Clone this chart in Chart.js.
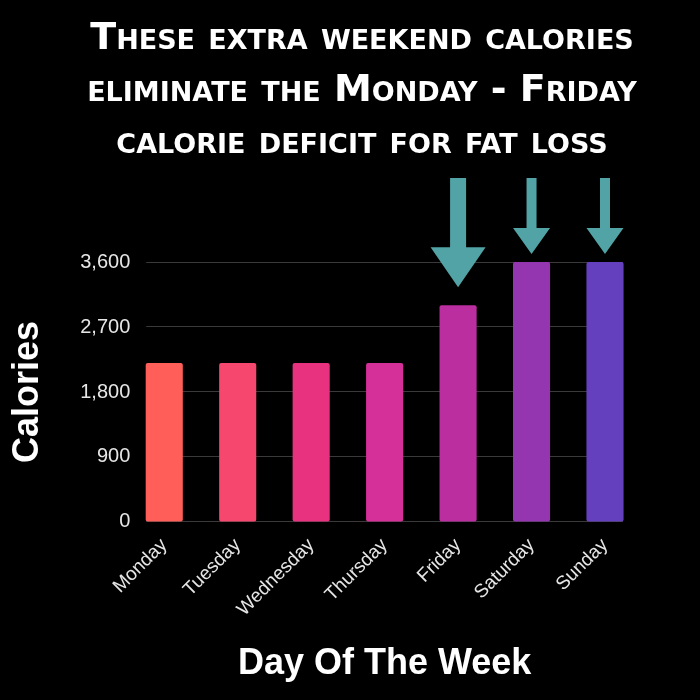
<!DOCTYPE html>
<html>
<head>
<meta charset="utf-8">
<script src="https://cdn.jsdelivr.net/npm/chart.js@4/dist/chart.umd.min.js"></script>
<style>
  html, body { margin: 0; padding: 0; background: #000; }
  #wrap { width: 700px; height: 700px; }
</style>
</head>
<body>
<div id="wrap"><canvas id="c" width="700" height="700"></canvas></div>
<script>
// ---- data ----
var days = ['Monday', 'Tuesday', 'Wednesday', 'Thursday', 'Friday', 'Saturday', 'Sunday'];
var calories = [2200, 2200, 2200, 2200, 3000, 3600, 3600];
var barColors = ['#FF5F58', '#F6476E', '#E8327F', '#D5309A', '#BA2EA0', '#9536B1', '#6540BE'];
var yTicks = [0, 900, 1800, 2700, 3600];
var titleLines = [
  'These extra weekend calories',
  'eliminate the Monday - Friday',
  'calorie deficit for fat loss'
];
// which bars get a down arrow, and how big
var arrowDays = ['Friday', 'Saturday', 'Sunday'];
var arrowBig = [true, false, false];

var GRID = '#3a3a3a';
var TICK = '#e6e6e6';
var TEAL = '#52A3A6';

// black background
var bgPlugin = {
  id: 'bg',
  beforeDraw: function (chart) {
    var ctx = chart.ctx;
    ctx.save();
    ctx.fillStyle = '#000';
    ctx.fillRect(0, 0, chart.width, chart.height);
    ctx.restore();
  }
};

// teal arrows above the weekend bars
var arrowPlugin = {
  id: 'arrows',
  afterDatasetsDraw: function (chart) {
    var ctx = chart.ctx;
    var meta = chart.getDatasetMeta(0);
    var top = chart.chartArea.top - 84;
    ctx.save();
    ctx.fillStyle = TEAL;
    arrowDays.forEach(function (d, k) {
      var bar = meta.data[days.indexOf(d)];
      if (!bar) return;
      var big = arrowBig[k];
      var shaft = big ? 16 : 10;
      var head = big ? 55 : 37;
      var headH = big ? 40 : 26;
      var tip = bar.y - (big ? 18 : 8);
      var x = bar.x;
      ctx.beginPath();
      ctx.moveTo(x - shaft / 2, top);
      ctx.lineTo(x + shaft / 2, top);
      ctx.lineTo(x + shaft / 2, tip - headH);
      ctx.lineTo(x + head / 2, tip - headH);
      ctx.lineTo(x, tip);
      ctx.lineTo(x - head / 2, tip - headH);
      ctx.lineTo(x - shaft / 2, tip - headH);
      ctx.closePath();
      ctx.fill();
    });
    ctx.restore();
  }
};

function fixedTicks(s) { s.ticks = yTicks.map(function (v) { return { value: v }; }); }

new Chart(document.getElementById('c'), {
  type: 'bar',
  data: {
    labels: days,
    datasets: [{
      data: calories,
      backgroundColor: barColors,
      borderRadius: 2,
      borderSkipped: false,
      categoryPercentage: 1,
      barPercentage: 0.505,
      clip: 40
    }]
  },
  options: {
    responsive: false,
    animation: false,
    devicePixelRatio: 1,
    layout: { padding: { left: 24, right: 0, top: 0, bottom: 0 } },
    plugins: {
      legend: { display: false },
      tooltip: { enabled: false },
      title: {
        display: true,
        text: titleLines,
        color: '#fff',
        padding: { top: 13, bottom: 93 },
        font: { family: 'DejaVu Sans', size: 38, weight: 'small-caps bold', lineHeight: '52px' }
      }
    },
    scales: {
      x: {
        offset: false,
        border: { display: false },
        grid: { display: false },
        ticks: {
          color: TICK,
          minRotation: 45,
          maxRotation: 45,
          padding: 4,
          font: { family: 'Liberation Sans', size: 19 }
        },
        title: {
          display: true,
          text: 'Day Of The Week',
          color: '#fff',
          padding: { top: 18, bottom: 14 },
          font: { family: 'Liberation Sans', size: 36, weight: 'bold' }
        }
      },
      y: {
        min: 0,
        max: 3600,
        border: { display: false },
        grid: { color: GRID, tickLength: 18, tickColor: GRID },
        afterBuildTicks: fixedTicks,
        ticks: {
          color: TICK,
          padding: 16,
          font: { family: 'Liberation Sans', size: 20 },
          callback: function (v) { return v.toLocaleString('en-US'); }
        },
        title: {
          display: true,
          text: 'Calories',
          color: '#fff',
          padding: { top: -18, bottom: 15 },
          font: { family: 'Liberation Sans', size: 36, weight: 'bold' }
        }
      },
      y2: {
        position: 'right',
        min: 0,
        max: 3600,
        border: { display: false },
        grid: { color: GRID, drawOnChartArea: false, tickLength: 18, tickColor: GRID },
        afterBuildTicks: fixedTicks,
        afterFit: function (s) { s.width = 95; },
        ticks: { display: false }
      }
    }
  },
  plugins: [bgPlugin, arrowPlugin]
});
</script>
</body>
</html>
